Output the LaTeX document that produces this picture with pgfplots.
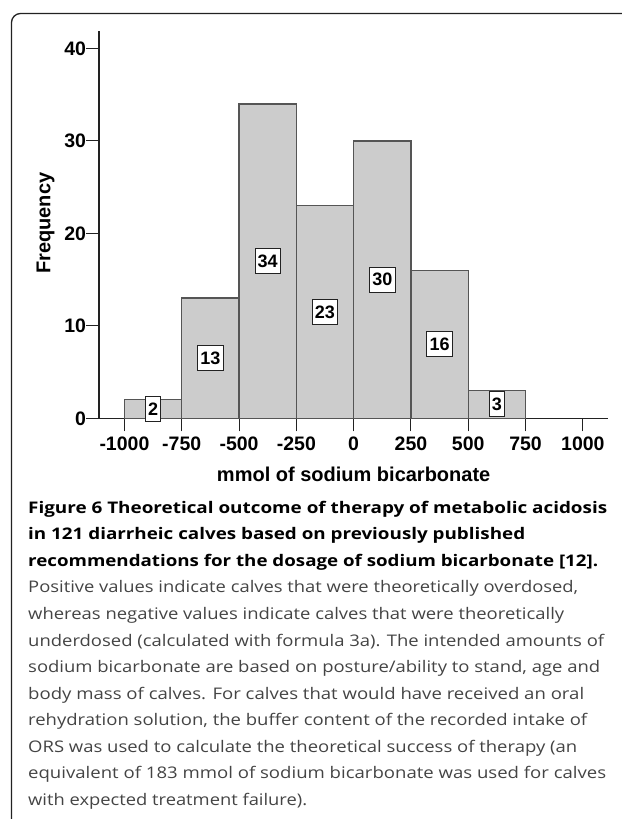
\documentclass[border=0pt]{standalone}
\usepackage{graphicx}
\usepackage{pgfplots}
\pgfplotsset{compat=1.18}
\usepackage{fontspec}
\newfontfamily\arial{Liberation Sans}
\newfontfamily\capfont{Open Sans}
\definecolor{barfill}{HTML}{CCCCCC}
\definecolor{baredge}{HTML}{555555}
\definecolor{captext}{HTML}{444444}
\definecolor{axcol}{HTML}{222222}
\newlength\capw
\newcommand\capline[4]{%
  \settowidth\capw{\pgfinterruptpicture#3#4\endpgfinterruptpicture}%
  \pgfmathsetmacro\capr{#2/\capw}%
  \node[anchor=base west, inner sep=0pt] at (28pt,-#1pt) {\scalebox{\capr}[1]{#3#4}};%
}
\begin{document}
\begin{tikzpicture}
\path[use as bounding box] (0,0) rectangle (621pt,-819pt);
\draw[line width=1.3pt, axcol, rounded corners=9pt] (11.5pt,-822pt) -- (11.5pt,-13.5pt) -- (625pt,-13.5pt);
\begin{axis}[
  at={(99pt,-418.3pt)}, anchor=south west,
  scale only axis, width=509.3pt, height=387.3pt,
  xmin=-1111, xmax=1111, ymin=0, ymax=41.9,
  axis x line=bottom, axis y line=left,
  axis line style={-, line width=1.6pt, axcol},
  xtick={-1000,-750,-500,-250,0,250,500,750,1000},
  xticklabels={-1000,-750,-500,-250,0,250,500,750,1000},
  ytick={0,10,20,30,40}, yticklabels={0,10,20,30,40},
  tick align=outside, major tick length=13pt,
  tick style={line width=1pt, axcol},
  ticklabel style={font=\arial\bfseries\fontsize{19.5}{20}\selectfont},
  yticklabel style={xshift=3.5pt},
  xticklabel style={yshift=-2pt},
  xlabel={mmol of sodium bicarbonate}, ylabel={Frequency},
  every axis x label/.style={at={(axis description cs:0.5,0)}, anchor=base, yshift=-62.7pt,
    font=\arial\bfseries\fontsize{20}{22}\selectfont},
  every axis y label/.style={at={(axis description cs:0,0.5)}, anchor=base, rotate=90, yshift=48.7pt, xshift=1.5pt,
    font=\arial\bfseries\fontsize{20}{22}\selectfont},
  clip=false,
]
\addplot[ybar interval, fill=barfill, draw=baredge, line width=1.3pt]
  coordinates {(-1000,2) (-750,13) (-500,34) (-250,23) (0,30) (250,16) (500,3) (750,3)};
\addplot[draw=none, mark=none, nodes near coords, point meta=explicit symbolic,
  every node near coord/.append style={anchor=center, draw=axcol, fill=white, line width=0.9pt,
    font=\arial\bfseries\fontsize{18}{18}\selectfont, inner xsep=2.7pt, inner ysep=0pt, minimum height=25pt}]
  coordinates {(-875,1)[2] (-625,6.5)[13] (-375,17)[34] (-125,11.5)[23] (125,15)[30] (375,8)[16] (625,1.5)[3]};
\end{axis}
\def\capB{\capfont\bfseries\fontsize{16}{20}\selectfont\color{black}}
\def\capR{\capfont\fontsize{16}{20}\selectfont\color{captext}}
\capline{513.3}{579}{\capB}{Figure 6 Theoretical outcome of therapy of metabolic acidosis}
\capline{539.85}{497}{\capB}{in 121 diarrheic calves based on previously published}
\capline{566.4}{570}{\capB}{recommendations for the dosage of sodium bicarbonate [12].}
\capline{592.95}{550}{\capR}{Positive values indicate calves that were theoretically overdosed,}
\capline{619.5}{536}{\capR}{whereas negative values indicate calves that were theoretically}
\capline{646.05}{576}{\capR}{underdosed (calculated with formula 3a). The intended amounts of}
\capline{672.6}{572}{\capR}{sodium bicarbonate are based on posture/ability to stand, age and}
\capline{699.15}{556}{\capR}{body mass of calves. For calves that would have received an oral}
\capline{725.7}{559}{\capR}{rehydration solution, the buffer content of the recorded intake of}
\capline{752.25}{549}{\capR}{ORS was used to calculate the theoretical success of therapy (an}
\capline{778.8}{578}{\capR}{equivalent of 183 mmol of sodium bicarbonate was used for calves}
\capline{805.35}{279}{\capR}{with expected treatment failure).}
\end{tikzpicture}
\end{document}
